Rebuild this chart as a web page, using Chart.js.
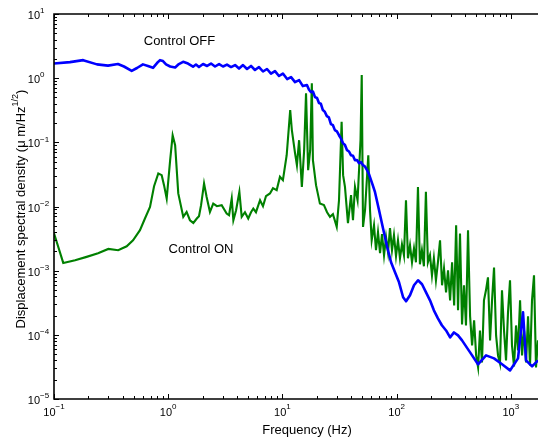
<!DOCTYPE html>
<html>
<head>
<meta charset="utf-8">
<script src="https://cdn.jsdelivr.net/npm/chart.js@4.4.1/dist/chart.umd.min.js"></script>
<style>
html,body{margin:0;padding:0;background:#fff;}
#wrap{width:538px;height:439px;position:relative;}
</style>
</head>
<body>
<div id="wrap"><canvas id="c" width="538" height="439"></canvas></div>
<script>
// ---- data ----
const freqOff = [0.1,0.138,0.18,0.238,0.297,0.363,0.41,0.479,0.533,0.601,
0.665,0.736,0.798,0.848,0.9,0.957,1.04,1.15,1.24,1.35,
1.49,1.65,1.75,1.86,2.02,2.19,2.37,2.57,2.79,3.02,
3.27,3.55,3.85,4.17,4.52,4.9,5.31,5.75,6.24,6.76,
7.33,7.94,8.61,9.33,10.1,11.0,11.9,12.9,14.0,15.1,
16.4,17.1,17.8,18.5,19.3,20.1,20.9,21.7,22.6,23.5,
24.5,25.5,26.6,27.7,28.8,30.0,31.3,32.5,33.9,35.3,
36.8,38.3,39.8,41.5,43.2,45.0,46.9,48.8,50.8,52.9,
55.1,57.3,59.7,62.1,64.7,
70.2,76.0,82.4,89.4,96.8,105,114,121,131,142,
154,167,181,196,212,230,249,271,294,318,
345,374,440,516,607,713,838,984,1156,1279,
1359,1535,1730];
const valOff = [1.69,1.78,1.91,1.64,1.57,1.66,1.52,1.30,1.44,1.64,
1.55,1.45,1.72,1.91,1.85,1.64,1.52,1.47,1.66,1.80,
1.69,1.51,1.63,1.49,1.66,1.55,1.69,1.52,1.66,1.52,
1.63,1.49,1.60,1.41,1.60,1.39,1.55,1.34,1.49,1.27,
1.39,1.18,1.29,1.08,1.18,0.968,1.04,0.869,0.933,0.753,
0.78,0.66,0.607,0.62,0.507,0.49,0.409,0.40,0.318,0.30,
0.256,0.245,0.192,0.185,0.155,0.148,0.129,0.115,0.0972,0.091,
0.0755,0.072,0.063,0.062,0.0527,0.053,0.0473,0.049,0.044,0.042,
0.0368,0.032,0.0257,0.021,0.0167,
0.00875,0.00458,0.0024,0.00135,0.000944,0.000659,0.000385,0.000333,0.000413,0.000592,
0.000708,0.000614,0.00046,0.000345,0.000241,0.000181,0.000141,0.000117,0.0000914,0.000109,
0.0000982,0.000082,0.0000533,0.0000347,0.0000479,0.000043,0.0000347,0.0000279,0.000043,0.000224,
0.00004,0.0000323,0.00004];

const freqOn = [0.1,0.1205,0.153,0.193,0.243,0.299,0.365,0.433,0.492,0.566,
0.627,0.693,0.752,0.819,0.877,0.919,0.97,1.04,1.094,1.15,
1.225,1.355,1.45,1.55,1.66,1.78,1.86,1.94,2.06,2.17,
2.32,2.48,2.67,2.94,3.25,3.41,3.6,3.72,3.93,4.2,
4.4,4.7,5.02,5.31,5.56,5.87,6.37,6.76,7.18,7.78,
8.27,8.91,9.52,10.1,10.9,11.7,12.1,12.9,13.4,14.0,
14.8,15.5,16.1,16.8,17.5,18.1,18.5,19.7,21.3,23.1,
24.6,26.1,27.7,29.9,31.3,33.0,34.0,35.3,37.5,39.9,
41.5,43.2,45.5,48.3,49.5,50.8,52.9,56.5,58.5,60.5,
63.4,66.0,68.7,71.6,74.5,77.6,80.8,84.1,
87.5,91.1,94.8,98.8,102.8,107,111.4,116,120.8,125.7,
131,136.4,142,147.7,153.8,160,166.6,173.4,180.5,187.9,
196,204,212,221,230,240,250,260,271,282,
294,306,319,332,345,359,374,389,405,422,
440,458,477,497,517,537,559,582,606,631,
658,685,713,743,773,804,837,872,908,945,
984,1024,1067,1111,1156,1205,1254,1306,1360,1415,
1473,1533,1596,1662,1730];
const valOn = [0.00383,0.00132,0.00145,0.00164,0.00187,0.00218,0.00208,0.0024,0.00298,0.00427,
0.00656,0.00986,0.0207,0.0327,0.0308,0.0215,0.0133,0.0527,0.129,0.0904,
0.016,0.00689,0.00824,0.00611,0.00555,0.0065,0.00706,0.0105,0.0229,0.0141,
0.00824,0.0111,0.0101,0.0105,0.00778,0.00731,0.0133,0.00611,0.00875,0.0169,
0.00689,0.00815,0.0065,0.00815,0.0093,0.00815,0.0125,0.0101,0.0145,0.016,
0.0193,0.018,0.029,0.0257,0.063,0.318,0.155,0.0679,0.044,0.108,
0.0202,0.0755,0.579,0.0368,0.0755,0.83,0.0527,0.0215,0.0111,0.0105,
0.00815,0.00689,0.00759,0.00481,0.0125,0.209,0.0308,0.0202,0.0055,0.015,
0.00611,0.0202,0.0125,0.108,1.12,0.00481,0.00875,0.063,0.00875,0.00298,
0.0051,0.00208,0.00398,0.00187,0.0037,0.00174,0.00332,0.00194,
0.00459,0.00208,0.00357,0.00168,0.00298,0.00156,0.00258,0.00174,0.0125,0.00156,
0.00249,0.00135,0.00223,0.00135,0.0202,0.00126,0.00208,0.00117,0.0169,0.00135,
0.00174,0.000844,0.00156,0.000708,0.00135,0.00298,0.000592,0.00108,0.00046,0.00101,
0.000345,0.00135,0.000288,0.0051,0.000241,0.00379,0.000145,0.000592,0.00014,0.00427,
0.000194,0.0000686,0.000168,0.0000477,0.0000311,0.000117,0.0000372,0.000345,0.000494,0.000788,
0.000082,0.000345,0.00112,0.0000978,0.0000477,0.0000359,0.000494,0.000117,0.00004,0.000224,
0.000708,0.0000686,0.0000322,0.00014,0.0000571,0.000345,0.0000477,0.000117,0.0000372,0.000194,
0.0000334,0.000345,0.000844,0.0000311,0.000082];

const xDecades = [-1,0,1,2,3];
const yDecades = [-5,-4,-3,-2,-1,0,1];
const xMin = 0.1, xMax = 1730, yMin = 1e-5, yMax = 10;
const xTitle = 'Frequency (Hz)';
const yTitleMain = 'Displacement spectral density (\u03bc m/Hz';
const yTitleSup = '1/2';
const yTitleEnd = ')';
const labelOff = 'Control OFF';
const labelOn = 'Control ON';

const FONT = '"Liberation Sans", Arial, Helvetica, sans-serif';

function pts(xs, ys){ return xs.map((v,i)=>({x:v, y:ys[i]})); }
function expText(e){ return e < 0 ? '\u2212' + Math.abs(e) : String(e); }

const overlay = {
  id: 'overlay',
  afterDraw(chart){
    const {ctx, chartArea:a} = chart;
    const xs = chart.scales.x, ys = chart.scales.y;
    ctx.save();
    ctx.strokeStyle = '#000';
    ctx.lineWidth = 1;
    ctx.beginPath();
    for (const e of xDecades) {
      for (let m=1; m<10; m++){
        const v = m*Math.pow(10,e);
        if (v < xMin*0.999 || v > xMax) continue;
        const px = Math.round(xs.getPixelForValue(v)) + 0.5;
        const L = m===1 ? 5 : 3;
        ctx.moveTo(px, a.bottom); ctx.lineTo(px, a.bottom - L);
        ctx.moveTo(px, a.top); ctx.lineTo(px, a.top + L);
      }
    }
    for (const e of yDecades) {
      for (let m=1; m<10; m++){
        const v = m*Math.pow(10,e);
        if (v < yMin*0.999 || v > yMax*1.001) continue;
        const py = Math.round(ys.getPixelForValue(v)) + 0.5;
        const L = m===1 ? 5 : 3;
        ctx.moveTo(a.left, py); ctx.lineTo(a.left + L, py);
      }
    }
    ctx.stroke();
    ctx.lineWidth = 1.6;
    ctx.beginPath();
    ctx.moveTo(a.right, a.top); ctx.lineTo(a.left, a.top);
    ctx.lineTo(a.left, a.bottom); ctx.lineTo(a.right, a.bottom);
    ctx.stroke();

    ctx.fillStyle = '#000';
    ctx.textBaseline = 'middle';
    ctx.textAlign = 'left';
    const baseFont = '11px ' + FONT, supFont = '8px ' + FONT;
    for (const e of xDecades) {
      const px = xs.getPixelForValue(Math.pow(10,e));
      ctx.font = baseFont; const wb = ctx.measureText('10').width;
      ctx.font = supFont; const we = ctx.measureText(expText(e)).width;
      const s = px - (wb+we)/2;
      ctx.font = baseFont; ctx.fillText('10', s, a.bottom + 14);
      ctx.font = supFont; ctx.fillText(expText(e), s + wb, a.bottom + 8);
    }
    for (const e of yDecades) {
      const py = ys.getPixelForValue(Math.pow(10,e));
      ctx.font = baseFont; const wb = ctx.measureText('10').width;
      const r = a.left - 14;
      ctx.fillText('10', r - wb, py + 2);
      ctx.font = supFont; ctx.fillText(expText(e), r, py - 3);
    }
    ctx.font = '13px ' + FONT;
    ctx.textAlign = 'center';
    ctx.fillText(xTitle, (a.left + a.right)/2 + 11, 430);
    ctx.fillText(labelOff, 179.5, 41);
    ctx.fillText(labelOn, 201, 249);
    ctx.save();
    ctx.translate(21, 209);
    ctx.rotate(-Math.PI/2);
    ctx.textAlign = 'left';
    ctx.font = '13px ' + FONT; const w1 = ctx.measureText(yTitleMain).width; const w3 = ctx.measureText(yTitleEnd).width;
    ctx.font = '9px ' + FONT; const w2 = ctx.measureText(yTitleSup).width;
    let s = -(w1+w2+w3)/2;
    ctx.font = '13px ' + FONT; ctx.fillText(yTitleMain, s, 0);
    ctx.font = '9px ' + FONT; ctx.fillText(yTitleSup, s + w1, -5);
    ctx.font = '13px ' + FONT; ctx.fillText(yTitleEnd, s + w1 + w2, 0);
    ctx.restore();
    ctx.restore();
  }
};

new Chart(document.getElementById('c'), {
  type: 'line',
  data: {
    datasets: [
      { label: labelOff, data: pts(freqOff, valOff), borderColor: '#0000ff', borderWidth: 2.6,
        pointRadius: 0, tension: 0, fill: false, borderJoinStyle: 'round' },
      { label: labelOn, data: pts(freqOn, valOn), borderColor: '#008000', borderWidth: 2.1,
        pointRadius: 0, tension: 0, fill: false }
    ]
  },
  options: {
    responsive: false,
    devicePixelRatio: 1,
    animation: false,
    layout: { padding: { left: 54, top: 14, right: 0, bottom: 40 } },
    plugins: { legend: { display: false }, tooltip: { enabled: false } },
    scales: {
      x: { type: 'logarithmic', min: xMin, max: xMax, display: false },
      y: { type: 'logarithmic', min: yMin, max: yMax, display: false }
    }
  },
  plugins: [overlay]
});
</script>
</body>
</html>
